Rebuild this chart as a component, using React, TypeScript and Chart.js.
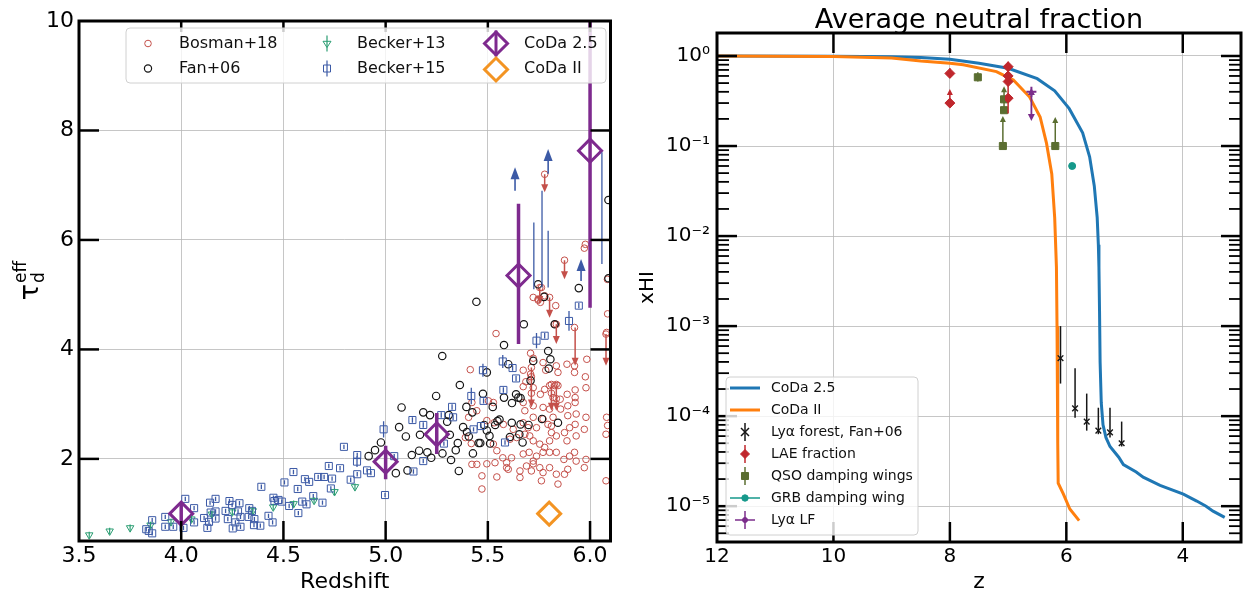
import React, { useEffect, useRef } from 'react';
import { Chart, registerables } from 'chart.js';

Chart.register(...registerables);

const FONT = '"DejaVu Sans", "Liberation Sans", sans-serif';

// ---------------- Left panel data ----------------
const leftXTicks = [3.5, 4.0, 4.5, 5.0, 5.5, 6.0];
const leftYTicks = [2, 4, 6, 8, 10];

const bosman18 = [
  [5.540,4.29],[5.414,3.63],[5.709,3.93],[5.722,3.84],[5.673,3.62],[5.709,3.55],[5.770,3.76],[5.783,3.62],
  [5.835,3.70],[5.843,3.58],[5.887,3.73],[5.924,3.70],[5.924,3.58],[5.984,3.82],[5.980,3.30],[5.977,3.50],
  [5.722,4.95],[5.746,4.90],[5.757,4.86],[5.832,4.80],[5.673,3.32],[5.686,3.41],[5.722,3.30],[5.757,3.18],
  [5.778,3.27],[5.802,3.34],[5.827,3.34],[5.843,3.34],[5.819,3.12],[5.854,3.09],[5.888,3.18],[5.927,3.26],
  [5.927,3.12],[5.927,3.03],[5.891,2.97],[5.856,2.91],[5.802,2.91],[5.770,2.94],[5.722,2.97],[5.681,2.88],
  [5.673,3.03],[5.527,3.03],[5.503,3.06],[5.422,3.03],[5.446,2.88],[5.406,2.76],[5.495,2.70],[5.531,2.66],
  [5.576,2.63],[5.624,2.54],[5.673,2.66],[5.697,2.57],[5.722,2.76],[5.738,2.57],[5.770,2.73],[5.794,2.63],
  [5.811,2.60],[5.819,2.76],[5.891,2.79],[5.932,2.82],[5.980,2.76],[5.927,2.63],[5.900,2.57],[5.972,2.54],
  [6.081,2.76],[6.078,2.45],[5.608,2.36],[5.641,2.39],[5.681,2.45],[5.705,2.42],[5.722,2.33],[5.754,2.27],
  [5.778,2.21],[5.802,2.33],[5.811,2.48],[5.835,2.42],[5.875,2.48],[5.887,2.33],[5.932,2.42],[5.924,2.12],
  [5.980,1.99],[5.527,2.27],[5.544,2.15],[5.573,2.02],[5.616,2.02],[5.673,2.09],[5.702,2.12],[5.722,1.96],
  [5.738,2.05],[5.770,2.12],[5.802,2.12],[5.835,2.12],[5.872,1.99],[5.900,2.05],[5.932,1.96],[5.972,1.84],
  [5.891,1.81],[5.422,1.90],[5.446,1.90],[5.495,1.91],[5.535,1.93],[5.592,1.93],[5.600,1.81],[5.657,1.78],
  [5.689,1.87],[5.713,1.78],[5.722,1.91],[5.754,1.84],[5.770,1.75],[5.802,1.84],[5.835,1.72],[5.843,1.54],
  [5.875,1.72],[5.762,1.60],[5.657,1.66],[5.471,1.69],[5.544,1.67],[5.471,1.45],[5.592,1.84],[6.078,1.60],
  [5.390,2.39],[5.419,2.28],[6.086,4.65],[6.081,4.31],[6.086,2.61],[5.977,5.92],[5.972,5.85],[5.746,4.92],
  [5.762,5.13],[5.778,4.98],[5.826,4.46],[5.924,4.40],[6.085,5.28],[5.778,7.20],[5.875,5.63],[5.802,4.95],
  [5.754,5.13],[5.835,4.46],[6.078,4.28],[5.713,3.67],[5.811,3.36],[5.835,3.36],[5.713,3.50],[5.713,3.20],
  [5.811,3.20],[5.835,3.10],
];
// [z, from, to] downward-limit arrows
const bosman18Limits = [
  [5.778,7.20,6.87],[5.875,5.63,5.28],[5.802,4.95,4.58],[5.754,5.13,4.83],[5.835,4.46,4.10],
  [5.927,4.40,3.70],[6.078,4.28,3.70],[5.713,3.67,2.94],[5.811,3.36,2.88],[5.835,3.36,2.88],
];

const fan06 = [
  [4.917,2.05],[4.948,2.16],[4.977,2.30],[5.05,1.74],[5.066,2.58],[5.078,2.94],[5.099,2.41],[5.107,1.79],
  [5.128,2.07],[5.164,2.15],[5.168,2.44],[5.184,2.85],[5.204,2.12],[5.217,2.80],[5.223,2.02],[5.247,3.15],
  [5.277,3.88],[5.278,2.10],[5.301,2.68],[5.309,2.80],[5.314,2.44],[5.32,1.98],[5.343,2.16],[5.353,2.29],
  [5.358,1.78],[5.363,3.35],[5.379,2.58],[5.395,2.95],[5.398,2.49],[5.407,2.41],[5.427,2.10],[5.424,2.85],
  [5.444,4.87],[5.455,2.29],[5.463,2.29],[5.476,3.19],[5.482,2.62],[5.495,3.58],[5.495,2.52],[5.508,2.42],
  [5.511,2.28],[5.524,2.95],[5.536,2.62],[5.547,2.69],[5.557,2.72],[5.579,4.08],[5.579,3.12],[5.600,3.73],
  [5.608,2.40],[5.618,3.02],[5.617,2.66],[5.638,3.18],[5.649,3.12],[5.660,3.11],[5.654,2.45],[5.660,2.63],
  [5.670,2.30],[5.676,4.46],[5.699,2.62],[5.709,3.43],[5.722,3.79],[5.746,5.19],[5.765,2.73],[5.775,4.96],
  [5.795,3.97],[5.798,3.65],[5.806,3.82],[5.827,4.46],[5.843,2.66],[5.945,5.12],[6.09,5.30],[6.09,6.73],
];

const becker13 = [
  [3.55,0.61],[3.65,0.68],[3.75,0.74],[3.85,0.79],[3.95,0.85],[4.05,0.90],[4.15,0.99],
  [4.25,1.03],[4.35,1.05],[4.45,1.12],[4.55,1.18],[4.65,1.24],[4.75,1.40],[4.85,1.49],
];
const becker13Err = 0.06;

// [z, tau, err]
const becker15 = [
  [3.829,0.715,0.04],[3.841,0.684,0.04],[3.858,0.64,0.04],[3.858,0.88,0.04],[3.922,0.94,0.04],[3.922,0.76,0.04],
  [3.961,0.76,0.04],[4.02,1.27,0.04],[4.011,0.74,0.04],[4.063,1.10,0.04],[4.063,0.84,0.04],[4.128,0.74,0.04],
  [4.136,0.85,0.04],[4.112,0.92,0.04],[4.144,1.02,0.04],[4.141,1.20,0.04],[4.168,1.27,0.04],[4.168,1.04,0.04],
  [4.168,0.91,0.04],[4.217,1.05,0.04],[4.228,0.90,0.04],[4.236,1.23,0.04],[4.249,1.16,0.04],[4.252,0.73,0.04],
  [4.265,0.84,0.04],[4.278,1.04,0.04],[4.285,1.19,0.04],[4.29,0.94,0.04],[4.29,0.76,0.04],[4.333,1.10,0.04],
  [4.33,0.94,0.04],[4.346,1.05,0.04],[4.358,0.90,0.04],[4.356,0.79,0.04],[4.387,0.78,0.04],[4.392,1.49,0.04],
  [4.427,0.96,0.04],[4.447,0.84,0.04],[4.451,1.29,0.04],[4.456,1.23,0.04],[4.476,1.25,0.04],[4.505,1.57,0.04],
  [4.492,1.22,0.04],[4.528,1.14,0.04],[4.549,1.76,0.04],[4.57,1.45,0.04],[4.573,1.01,0.04],[4.592,1.22,0.04],
  [4.605,1.63,0.04],[4.613,1.17,0.04],[4.626,1.58,0.04],[4.646,1.32,0.04],[4.67,1.67,0.04],[4.691,1.20,0.04],
  [4.699,1.67,0.04],[4.722,1.87,0.04],[4.732,1.46,0.04],[4.738,1.64,0.04],[4.777,1.83,0.04],[4.796,2.22,0.04],
  [4.829,1.62,0.04],[4.861,1.72,0.04],[4.861,2.07,0.04],[4.86,1.95,0.1],[4.909,1.79,0.04],[4.928,1.74,0.04],
  [4.99,2.54,0.15],[4.997,1.34,0.04],[5.042,2.05,0.04],[5.131,2.71,0.05],[5.184,2.62,0.05],[5.136,1.77,0.04],
  [5.184,1.96,0.04],[5.272,2.80,0.05],[5.325,2.95,0.05],[5.33,2.76,0.05],[5.285,2.28,0.04],[5.419,3.15,0.15],
  [5.479,3.06,0.05],[5.476,3.62,0.12],[5.43,2.54,0.04],[5.466,2.60,0.04],[5.584,2.30,0.04],[5.573,3.78,0.12],
  [5.621,3.66,0.05],[5.638,3.47,0.05],[5.576,3.26,0.05],[5.738,4.16,0.14],[5.778,4.25,0.05],[5.897,4.52,0.18],
  [5.945,4.80,0.05],
];
// [z, lo, hi] long error bars
const becker15Bars = [[5.725,5.10,6.32],[5.765,5.13,6.90],[5.795,5.13,6.17],[6.058,5.56,7.60]];
// [z, from, to] upward-limit arrows
const becker15Limits = [[5.633,6.90,7.33],[5.795,7.21,7.66],[5.956,5.25,5.65]];

const coda25Z = [4.0, 5.0, 5.25, 5.65, 6.0];
const coda25Tau = [1.0, 1.95, 2.45, 5.35, 7.63];
const coda25Lo = [0.80, 1.63, 2.09, 4.10, 4.76];
const coda25Hi = [1.18, 2.24, 2.84, 6.66, 11.0];
const codaIIZ = [5.8];
const codaIITau = [1.0];

// ---------------- Right panel data ----------------
const rightXTicks = [12, 10, 8, 6, 4];
const rightYTicks = [1e-5, 1e-4, 1e-3, 1e-2, 1e-1, 1];

const coda25CurveZ = [12, 10, 9, 8.5, 8.0, 7.5, 7.0, 6.5, 6.2, 5.95, 5.72, 5.6, 5.52, 5.47, 5.45, 5.44, 5.43, 5.42,
  5.40, 5.37, 5.32, 5.25, 5.1, 5.02, 4.8, 4.68, 4.39, 3.99, 3.76, 3.6, 3.48, 3.28];
const coda25CurveX = [1.0, 0.995, 0.98, 0.96, 0.92, 0.83, 0.73, 0.56, 0.41, 0.26, 0.14, 0.076, 0.036, 0.016, 0.008,
  0.0045, 0.0015, 4e-4, 1.4e-4, 8e-5, 5.8e-5, 4.6e-5, 3.5e-5, 2.9e-5, 2.4e-5, 2.1e-5, 1.7e-5, 1.36e-5, 1.14e-5,
  1.0e-5, 8.8e-6, 7.5e-6];
const codaIICurveZ = [12, 10, 9.0, 8.5, 8.0, 7.77, 7.2, 6.91, 6.63, 6.45, 6.34, 6.25, 6.20, 6.17, 6.16, 6.15, 6.145,
  6.14, 6.05, 5.94, 5.78];
const codaIICurveX = [1.0, 0.99, 0.95, 0.88, 0.83, 0.80, 0.67, 0.54, 0.35, 0.21, 0.107, 0.049, 0.016, 4.5e-3, 1e-3,
  2e-4, 5e-5, 1.8e-5, 1.36e-5, 9.3e-6, 6.9e-6];

const fanZ = [6.10, 5.85, 5.65, 5.45, 5.25, 5.05];
const fanX = [4.4e-4, 1.22e-4, 8.7e-5, 6.9e-5, 6.6e-5, 5.0e-5];
const fanLo = [2.3e-4, 9.6e-5, 6.9e-5, 6.3e-5, 5.8e-5, 4.6e-5];
const fanHi = [1.0e-3, 3.4e-4, 1.78e-4, 1.24e-4, 1.24e-4, 8.7e-5];

const laeZ = [8.0, 8.0, 7.0, 7.0, 7.0, 7.0];
const laeX = [0.64, 0.30, 0.76, 0.60, 0.52, 0.34];
const laeLo = [0.57, 0.30, 0.23, 0.60, 0.52, 0.34];
const laeHi = [0.73, 0.30, 0.76, 0.60, 0.52, 0.34];
const laeLimits = [[8.0, 0.30, 0.43], [7.0, 0.76, 0.88]];

const qsoZ = [7.52, 7.09, 7.07, 7.07, 6.19];
const qsoX = [0.58, 0.10, 0.25, 0.33, 0.10];
const qsoLo = [0.52, 0.10, 0.25, 0.30, 0.10];
const qsoHi = [0.66, 0.10, 0.25, 0.36, 0.10];
const qsoLimits = [[7.09, 0.10, 0.215], [7.07, 0.25, 0.46], [6.19, 0.10, 0.21]];

const grbZ = [5.9];
const grbX = [0.06];

const lyaLFZ = [6.6];
const lyaLFX = [0.40];
const lyaLFLimits = [[6.6, 0.40, 0.19], [6.6, 0.40, 0.44]];

// ---------------- colours ----------------
const RED = '#c4504a';
const BLACK = '#161616';
const GREEN = '#2a9d72';
const BLUE = '#3c5aa6';
const PURPLE = '#7e2a8e';
const ORANGE = '#f39423';
const C_BLUE = '#1f77b4';
const C_ORANGE = '#ff7f0e';
const LAE_C = '#c0272d';
const QSO_C = '#5b6e31';
const GRB_C = '#16998b';
const LF_C = '#7b2d8b';
const GRID = '#b8b8b8';

const SUP: Record<string, string> = { '-': '⁻', '0': '⁰', '1': '¹', '2': '²', '3': '³', '4': '⁴', '5': '⁵', '6': '⁶', '7': '⁷', '8': '⁸', '9': '⁹' };
const pow10Label = (v: number) => '10' + String(Math.round(Math.log10(v))).split('').map((c) => SUP[c]).join('');

const pts = (xs: number[], ys: number[]) => xs.map((x, i) => ({ x, y: ys[i] }));
const pairPts = (arr: number[][]) => arr.map((p) => ({ x: p[0], y: p[1] }));

function vline(ctx: any, x: number, y1: number, y2: number) {
  ctx.beginPath(); ctx.moveTo(x, y1); ctx.lineTo(x, y2); ctx.stroke();
}
function hline(ctx: any, x1: number, x2: number, y: number) {
  ctx.beginPath(); ctx.moveTo(x1, y); ctx.lineTo(x2, y); ctx.stroke();
}
function arrowV(ctx: any, x: number, y1: number, y2: number, w: number, h: number) {
  const dir = Math.sign(y2 - y1) || 1;
  vline(ctx, x, y1, y2 - dir * h * 0.5);
  ctx.beginPath();
  ctx.moveTo(x, y2);
  ctx.lineTo(x - w, y2 - dir * h);
  ctx.lineTo(x + w, y2 - dir * h);
  ctx.closePath();
  ctx.fill();
}
function marker(ctx: any, kind: string, x: number, y: number, r: number, stroke: string, lw: number, fill?: string) {
  ctx.beginPath();
  if (kind === 'circle') ctx.arc(x, y, r, 0, Math.PI * 2);
  else if (kind === 'square') ctx.rect(x - r, y - r, 2 * r, 2 * r);
  else if (kind === 'tridown') { ctx.moveTo(x - r, y - r * 0.55); ctx.lineTo(x + r, y - r * 0.55); ctx.lineTo(x, y + r); ctx.closePath(); }
  else if (kind === 'diamond') { ctx.moveTo(x, y - r); ctx.lineTo(x + r, y); ctx.lineTo(x, y + r); ctx.lineTo(x - r, y); ctx.closePath(); }
  else if (kind === 'x') { ctx.moveTo(x - r, y - r); ctx.lineTo(x + r, y + r); ctx.moveTo(x + r, y - r); ctx.lineTo(x - r, y + r); }
  if (fill) { ctx.fillStyle = fill; ctx.fill(); }
  ctx.strokeStyle = stroke; ctx.lineWidth = lw; ctx.stroke();
}

// error bars / limits plugin (uses the chart's scales)
const errorPlugin = {
  id: 'errorBars',
  afterDatasetsDraw(chart: any) {
    const { ctx, chartArea: a } = chart;
    const xs = chart.scales.x, ys = chart.scales.y;
    ctx.save();
    ctx.beginPath(); ctx.rect(a.left, a.top, a.right - a.left, a.bottom - a.top); ctx.clip();
    chart.data.datasets.forEach((ds: any) => {
      const col = ds.errColor || ds.pointBorderColor;
      ctx.strokeStyle = col; ctx.fillStyle = col; ctx.lineWidth = ds.errWidth || 1.2;
      if (ds.errLo) {
        ds.data.forEach((p: any, i: number) => {
          if (ds.errHi[i] === ds.errLo[i]) return;
          vline(ctx, xs.getPixelForValue(p.x), ys.getPixelForValue(ds.errLo[i]), ys.getPixelForValue(ds.errHi[i]));
        });
      }
      if (ds.bars) {
        ds.bars.forEach((b: number[]) => vline(ctx, xs.getPixelForValue(b[0]), ys.getPixelForValue(b[1]), ys.getPixelForValue(b[2])));
      }
      if (ds.limits) {
        ctx.lineWidth = ds.limitWidth || ctx.lineWidth;
        ds.limits.forEach((l: number[]) => arrowV(ctx, xs.getPixelForValue(l[0]), ys.getPixelForValue(l[1]), ys.getPixelForValue(l[2]), ds.headW || 3.5, ds.headH || 7));
      }
    });
    ctx.restore();
  },
};

const leftDecor = {
  id: 'leftDecor',
  afterDraw(chart: any) {
    const { ctx, chartArea: a } = chart;
    const xs = chart.scales.x, ys = chart.scales.y;
    ctx.save();
    ctx.strokeStyle = '#000'; ctx.lineWidth = 2.5;
    leftXTicks.forEach((v) => {
      const px = xs.getPixelForValue(v);
      if (px > a.left + 2 && px < a.right - 2) { vline(ctx, px, a.bottom, a.bottom - 20); vline(ctx, px, a.top, a.top + 11); }
    });
    leftYTicks.forEach((v) => {
      const py = ys.getPixelForValue(v);
      if (py > a.top + 2 && py < a.bottom - 2) { hline(ctx, a.left, a.left + 20, py); hline(ctx, a.right, a.right - 20, py); }
    });
    ctx.lineWidth = 3;
    ctx.strokeRect(a.left, a.top, a.right - a.left, a.bottom - a.top);

    // legend
    const bx = 126, by = 28, bw = 480, bh = 55;
    ctx.beginPath();
    ctx.roundRect(bx, by, bw, bh, 4);
    ctx.fillStyle = 'rgba(255,255,255,0.8)'; ctx.fill();
    ctx.strokeStyle = '#d0d0d0'; ctx.lineWidth = 1; ctx.stroke();
    const r1 = 43.5, r2 = 68.5;
    marker(ctx, 'circle', 148, r1, 3.3, RED, 1);
    marker(ctx, 'circle', 148, r2, 3.6, BLACK, 1.2);
    ctx.strokeStyle = GREEN; ctx.lineWidth = 1.2; vline(ctx, 327, r1 - 8, r1 + 8);
    marker(ctx, 'tridown', 327, r1, 4, GREEN, 1);
    ctx.strokeStyle = BLUE; ctx.lineWidth = 1.2; vline(ctx, 327, r2 - 8, r2 + 8);
    marker(ctx, 'square', 327, r2, 3.5, BLUE, 1);
    ctx.strokeStyle = PURPLE; ctx.lineWidth = 3; vline(ctx, 496, r1 - 13, r1 + 13);
    marker(ctx, 'diamond', 496, r1, 11.5, PURPLE, 3);
    marker(ctx, 'diamond', 496, r2 + 1, 11.5, ORANGE, 3);
    ctx.fillStyle = '#111'; ctx.font = `16px ${FONT}`; ctx.textBaseline = 'middle'; ctx.textAlign = 'left';
    ctx.fillText('Bosman+18', 179, r1);
    ctx.fillText('Fan+06', 179, r2);
    ctx.fillText('Becker+13', 357, r1);
    ctx.fillText('Becker+15', 357, r2);
    ctx.fillText('CoDa 2.5', 524, r1);
    ctx.fillText('CoDa II', 524, r2);

    // y label  tau_d^eff
    ctx.translate(38, 281); ctx.rotate(-Math.PI / 2);
    ctx.fillStyle = '#000'; ctx.textBaseline = 'alphabetic';
    ctx.font = `27px ${FONT}`;
    const tw = ctx.measureText('τ').width;
    ctx.font = `17px ${FONT}`;
    const ew = ctx.measureText('eff').width;
    const x0 = -(tw + ew) / 2;
    ctx.font = `27px ${FONT}`; ctx.fillText('τ', x0, 0);
    ctx.font = `17px ${FONT}`; ctx.fillText('eff', x0 + tw + 1, -12); ctx.fillText('d', x0 + tw + 1, 6);
    ctx.restore();
  },
};

const rightDecor = {
  id: 'rightDecor',
  afterDraw(chart: any) {
    const { ctx, chartArea: a } = chart;
    const xs = chart.scales.x, ys = chart.scales.y;
    ctx.save();
    ctx.strokeStyle = '#000'; ctx.lineWidth = 2.5;
    rightXTicks.forEach((v) => {
      const px = xs.getPixelForValue(v);
      if (px > a.left + 2 && px < a.right - 2) { vline(ctx, px, a.bottom, a.bottom - 20); vline(ctx, px, a.top, a.top + 20); }
    });
    for (let d = -6; d <= 0; d++) {
      for (let k = 1; k <= 9; k++) {
        const v = k * Math.pow(10, d);
        if (v < ys.min || v > ys.max) continue;
        const py = ys.getPixelForValue(v);
        const len = k === 1 ? 20 : 12;
        ctx.lineWidth = k === 1 ? 2.5 : 1.8;
        if (py > a.top + 1 && py < a.bottom - 1) { hline(ctx, a.left, a.left + len, py); hline(ctx, a.right, a.right - len, py); }
      }
    }
    ctx.lineWidth = 3;
    ctx.strokeRect(a.left, a.top, a.right - a.left, a.bottom - a.top);

    // title
    ctx.fillStyle = '#000'; ctx.font = `27px ${FONT}`; ctx.textAlign = 'center'; ctx.textBaseline = 'alphabetic';
    ctx.fillText('Average neutral fraction', (a.left + a.right) / 2, 28);

    // legend
    const ox = -625;
    const bx = 726 + ox, by = 377, bw = 192, bh = 158;
    ctx.beginPath(); ctx.roundRect(bx, by, bw, bh, 4);
    ctx.fillStyle = 'rgba(255,255,255,0.8)'; ctx.fill();
    ctx.strokeStyle = '#d0d0d0'; ctx.lineWidth = 1; ctx.stroke();
    const mx = 745 + ox, tx = 771 + ox;
    const rows = [388, 410, 432, 454, 476, 498, 520];
    ctx.lineWidth = 3;
    ctx.strokeStyle = C_BLUE; hline(ctx, mx - 15, mx + 15, rows[0]);
    ctx.strokeStyle = C_ORANGE; hline(ctx, mx - 15, mx + 15, rows[1]);
    ctx.strokeStyle = BLACK; ctx.lineWidth = 1.5; vline(ctx, mx, rows[2] - 9, rows[2] + 9);
    marker(ctx, 'x', mx, rows[2], 4, BLACK, 1.5);
    ctx.strokeStyle = LAE_C; ctx.lineWidth = 1.5; vline(ctx, mx, rows[3] - 9, rows[3] + 9);
    marker(ctx, 'diamond', mx, rows[3], 4.5, LAE_C, 1, LAE_C);
    ctx.strokeStyle = QSO_C; ctx.lineWidth = 1.5; vline(ctx, mx, rows[4] - 9, rows[4] + 9);
    marker(ctx, 'square', mx, rows[4], 3.5, QSO_C, 1, QSO_C);
    ctx.strokeStyle = GRB_C; ctx.lineWidth = 1.5; hline(ctx, mx - 15, mx + 15, rows[5]);
    marker(ctx, 'circle', mx, rows[5], 3.2, GRB_C, 1, GRB_C);
    ctx.strokeStyle = LF_C; ctx.lineWidth = 1.5; hline(ctx, mx - 10, mx + 10, rows[6]); vline(ctx, mx, rows[6] - 9, rows[6] + 9);
    marker(ctx, 'circle', mx, rows[6], 2.5, LF_C, 1, LF_C);
    ctx.fillStyle = '#111'; ctx.font = `14px ${FONT}`; ctx.textBaseline = 'middle'; ctx.textAlign = 'left';
    ['CoDa 2.5', 'CoDa II', 'Lyα forest, Fan+06', 'LAE fraction', 'QSO damping wings', 'GRB damping wing', 'Lyα LF']
      .forEach((t, i) => ctx.fillText(t, tx, rows[i]));
    ctx.restore();
  },
};

function leftConfig(): any {
  const pointBase = { showLine: false, pointBackgroundColor: 'rgba(0,0,0,0)' };
  return {
    type: 'scatter',
    data: {
      datasets: [
        { ...pointBase, label: 'CoDa 2.5', data: pts(coda25Z, coda25Tau), pointStyle: 'rectRot', pointRadius: 11.5,
          pointBorderColor: PURPLE, pointBorderWidth: 3, errLo: coda25Lo, errHi: coda25Hi, errWidth: 3.5, order: 0 },
        { ...pointBase, label: 'CoDa II', data: pts(codaIIZ, codaIITau), pointStyle: 'rectRot', pointRadius: 11.5,
          pointBorderColor: ORANGE, pointBorderWidth: 3, order: 1 },
        { ...pointBase, label: 'Becker+15', data: pairPts(becker15), pointStyle: 'rect', pointRadius: 5,
          pointBorderColor: BLUE, pointBorderWidth: 1,
          errLo: becker15.map((p) => p[1] - p[2]), errHi: becker15.map((p) => p[1] + p[2]), errWidth: 1.3,
          bars: becker15Bars, limits: becker15Limits, limitWidth: 1.6, headW: 4.5, headH: 12, order: 2 },
        { ...pointBase, label: 'Fan+06', data: pairPts(fan06), pointStyle: 'circle', pointRadius: 3.7,
          pointBorderColor: BLACK, pointBorderWidth: 1.2, order: 3 },
        { ...pointBase, label: 'Bosman+18', data: pairPts(bosman18), pointStyle: 'circle', pointRadius: 3.3,
          pointBorderColor: RED, pointBorderWidth: 1, limits: bosman18Limits, errWidth: 1.5, headW: 3.5, headH: 8, order: 4 },
        { ...pointBase, label: 'Becker+13', data: pairPts(becker13), pointStyle: 'triangle', pointRotation: 180, pointRadius: 4.3,
          pointBorderColor: GREEN, pointBorderWidth: 1,
          errLo: becker13.map((p) => p[1] - becker13Err), errHi: becker13.map((p) => p[1] + becker13Err), order: 5 },
      ],
    },
    options: {
      animation: false, responsive: false, maintainAspectRatio: false, events: [],
      layout: { padding: { left: 0, right: 11, top: 21, bottom: 0 } },
      plugins: { legend: { display: false }, tooltip: { enabled: false }, title: { display: false } },
      scales: {
        x: {
          type: 'linear', min: 3.5, max: 6.1,
          afterBuildTicks: (s: any) => { s.ticks = leftXTicks.map((v) => ({ value: v })); },
          afterFit: (s: any) => { s.height = 58; },
          ticks: { callback: (v: any) => Number(v).toFixed(1), font: { family: FONT, size: 22 }, color: '#000', padding: 2, autoSkip: false, maxRotation: 0 },
          grid: { color: GRID, lineWidth: 0.8, drawTicks: false }, border: { display: false },
          title: { display: true, text: 'Redshift', font: { family: FONT, size: 22 }, color: '#000', padding: { top: 0, bottom: 4 } },
        },
        y: {
          type: 'linear', min: 0.5, max: 10,
          afterBuildTicks: (s: any) => { s.ticks = leftYTicks.map((v) => ({ value: v })); },
          afterFit: (s: any) => { s.width = 79; },
          ticks: { callback: (v: any) => String(v), font: { family: FONT, size: 22 }, color: '#000', padding: 5, autoSkip: false },
          grid: { color: GRID, lineWidth: 0.8, drawTicks: false }, border: { display: false },
        },
      },
    },
    plugins: [errorPlugin, leftDecor],
  };
}

function rightConfig(): any {
  return {
    type: 'scatter',
    data: {
      datasets: [
        { label: 'Lyα forest, Fan+06', data: pts(fanZ, fanX), pointStyle: 'crossRot', pointRadius: 4,
          pointBorderColor: BLACK, pointBorderWidth: 1.4, errLo: fanLo, errHi: fanHi, errWidth: 1.5, order: 1 },
        { label: 'LAE fraction', data: pts(laeZ, laeX), pointStyle: 'rectRot', pointRadius: 5,
          pointBorderColor: LAE_C, pointBackgroundColor: LAE_C, pointBorderWidth: 1,
          errLo: laeLo, errHi: laeHi, errWidth: 1.5, limits: laeLimits, headW: 3, headH: 6, order: 1 },
        { label: 'QSO damping wings', data: pts(qsoZ, qsoX), pointStyle: 'rect', pointRadius: 5,
          pointBorderColor: QSO_C, pointBackgroundColor: QSO_C, pointBorderWidth: 1,
          errLo: qsoLo, errHi: qsoHi, errWidth: 1.5, limits: qsoLimits, headW: 3, headH: 6, order: 1 },
        { label: 'GRB damping wing', data: pts(grbZ, grbX), pointStyle: 'circle', pointRadius: 3.5,
          pointBorderColor: GRB_C, pointBackgroundColor: GRB_C, pointBorderWidth: 1, order: 1 },
        { label: 'Lyα LF', data: pts(lyaLFZ, lyaLFX), pointStyle: 'cross', pointRadius: 5,
          pointBorderColor: LF_C, pointBorderWidth: 2, limits: lyaLFLimits, errWidth: 1.8, headW: 3.5, headH: 7, order: 1 },
        { label: 'CoDa 2.5', data: pts(coda25CurveZ, coda25CurveX), showLine: true, borderColor: C_BLUE, borderWidth: 3,
          pointRadius: 0, tension: 0, order: 3 },
        { label: 'CoDa II', data: pts(codaIICurveZ, codaIICurveX), showLine: true, borderColor: C_ORANGE, borderWidth: 3,
          pointRadius: 0, tension: 0, order: 2 },
      ],
    },
    options: {
      animation: false, responsive: false, maintainAspectRatio: false, events: [],
      layout: { padding: { left: 0, right: 9, top: 33, bottom: 0 } },
      plugins: { legend: { display: false }, tooltip: { enabled: false }, title: { display: false } },
      scales: {
        x: {
          type: 'linear', min: 3, max: 12, reverse: true,
          afterBuildTicks: (s: any) => { s.ticks = rightXTicks.map((v) => ({ value: v })); },
          afterFit: (s: any) => { s.height = 57; },
          ticks: { callback: (v: any) => String(v), font: { family: FONT, size: 20 }, color: '#000', padding: 3, autoSkip: false, maxRotation: 0 },
          grid: { color: GRID, lineWidth: 0.8, drawTicks: false }, border: { display: false },
          title: { display: true, text: 'z', font: { family: FONT, size: 22 }, color: '#000', padding: { top: 0, bottom: 4 } },
        },
        y: {
          type: 'logarithmic', min: 4e-6, max: 1.8,
          afterBuildTicks: (s: any) => { s.ticks = rightYTicks.map((v) => ({ value: v })); },
          afterFit: (s: any) => { s.width = 92; },
          ticks: { callback: (v: any) => pow10Label(Number(v)), font: { family: FONT, size: 20 }, color: '#000', padding: 7, autoSkip: false },
          grid: { color: GRID, lineWidth: 0.8, drawTicks: false }, border: { display: false },
          title: { display: true, text: 'xHI', font: { family: FONT, size: 20 }, color: '#000', padding: { top: 11, bottom: 0 } },
        },
      },
    },
    plugins: [errorPlugin, rightDecor],
  };
}

export default function App() {
  const leftRef = useRef<HTMLCanvasElement>(null);
  const rightRef = useRef<HTMLCanvasElement>(null);
  useEffect(() => {
    const c1 = new Chart(leftRef.current as HTMLCanvasElement, leftConfig());
    const c2 = new Chart(rightRef.current as HTMLCanvasElement, rightConfig());
    return () => { c1.destroy(); c2.destroy(); };
  }, []);
  return (
    <div style={{ position: 'fixed', left: 0, top: 0, width: 1250, height: 599, background: '#fff', overflow: 'hidden' }}>
      <canvas ref={leftRef} width={625} height={599} style={{ position: 'absolute', left: 0, top: 0, width: 625, height: 599 }} />
      <canvas ref={rightRef} width={625} height={599} style={{ position: 'absolute', left: 625, top: 0, width: 625, height: 599 }} />
    </div>
  );
}
